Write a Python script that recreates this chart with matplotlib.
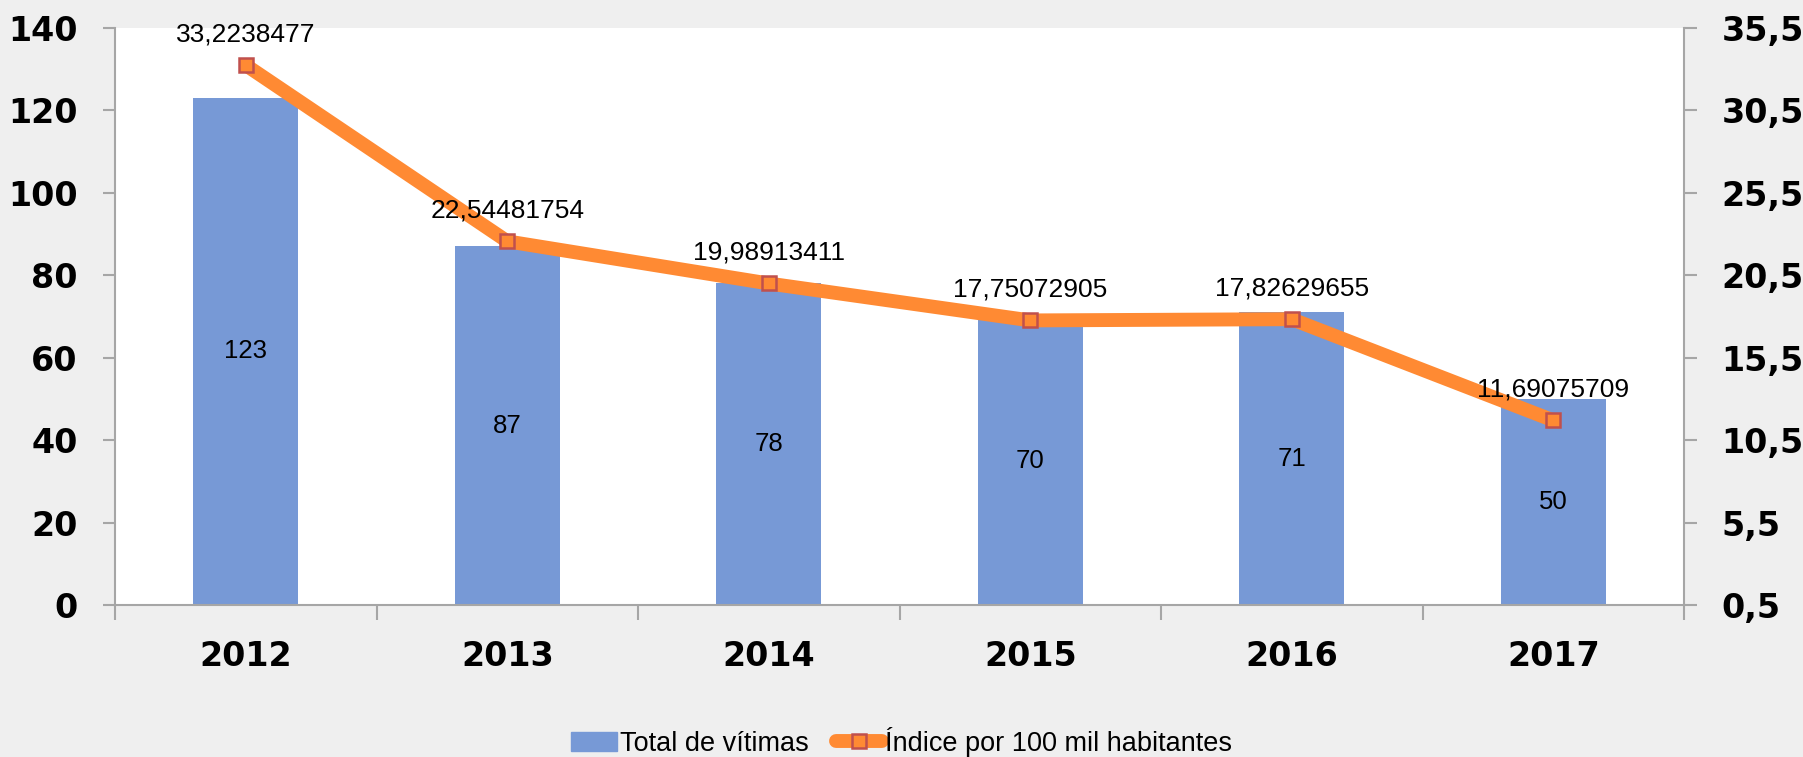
import numpy as np
from matplotlib import pyplot as plt
from matplotlib.lines import Line2D
import matplotlib.patches as mpatches

anos = ['2012', '2013', '2014', '2015', '2016', '2017']
vitimas = [123, 87, 78, 70, 71, 50]
indice = [33.2238477, 22.54481754, 19.98913411, 17.75072905, 17.82629655, 11.69075709]
rotulos_indice = ['33,2238477', '22,54481754', '19,98913411', '17,75072905', '17,82629655', '11,69075709']
ticks_esq = [0, 20, 40, 60, 80, 100, 120, 140]
ticks_dir = [0.5, 5.5, 10.5, 15.5, 20.5, 25.5, 30.5, 35.5]

azul = '#7799D6'
laranja = '#FF8A33'
cinza = '#A6A6A6'

fig = plt.figure(figsize=(18.03, 7.57), dpi=100)
fig.patch.set_facecolor('#EFEFEF')
ax = fig.add_axes([0.0638, 0.2008, 0.8702, 0.7627])
ax.set_facecolor('white')

x = np.arange(len(anos))
barras = ax.bar(x, vitimas, width=0.4, color=azul, zorder=2)
for xi, v in zip(x, vitimas):
    ax.text(xi, v / 2, str(v), ha='center', va='center', fontsize=18.5,
            family='Liberation Sans', zorder=5)

ax.set_xlim(-0.5, 5.5)
ax.set_ylim(0, 140)
ax.set_yticks(ticks_esq)
ax.set_yticklabels([str(t) for t in ticks_esq])
ax.set_xticks(x)
ax.set_xticklabels(anos)
ax.set_xticks(np.arange(-0.5, 6, 1), minor=True)
ax.tick_params(axis='x', which='major', length=0, pad=25)
ax.tick_params(axis='x', which='minor', length=11, width=1.5, color=cinza)
ax.tick_params(axis='y', length=9, width=1.5, color=cinza, pad=18)
for lab in ax.get_xticklabels() + ax.get_yticklabels():
    lab.set_fontsize(24)
    lab.set_fontweight('bold')

for s in ['top', 'right']:
    ax.spines[s].set_visible(False)
for s in ['left', 'bottom']:
    ax.spines[s].set_color(cinza)
    ax.spines[s].set_linewidth(1.5)

ax2 = ax.twinx()
ax2.plot(x, indice, color=laranja, lw=10, solid_capstyle='butt',
         solid_joinstyle='round', zorder=3,
         marker='s', markersize=10, markerfacecolor=laranja,
         markeredgecolor='#C0504D', markeredgewidth=1.8)
for xi, v, r in zip(x, indice, rotulos_indice):
    ax2.annotate(r, (xi, v), xytext=(0, 22), textcoords='offset points',
                 ha='center', va='center', fontsize=19, family='Liberation Sans')
ax2.set_ylim(0.5, 35.5)
ax2.set_yticks(ticks_dir)
ax2.set_yticklabels([str(t).replace('.', ',') for t in ticks_dir])
ax2.tick_params(axis='y', length=9, width=1.5, color=cinza, pad=18)
for lab in ax2.get_yticklabels():
    lab.set_fontsize(24)
    lab.set_fontweight('bold')
for s in ['top', 'left', 'bottom']:
    ax2.spines[s].set_visible(False)
ax2.spines['right'].set_color(cinza)
ax2.spines['right'].set_linewidth(1.5)

# Legenda
id_bar = mpatches.Patch(color=azul, label='Total de vítimas')
id_lin = Line2D([], [], color=laranja, lw=10, solid_capstyle='round',
                marker='s', markersize=10,
                markerfacecolor=laranja, markeredgecolor='#C0504D',
                markeredgewidth=1.8, label='Índice por 100 mil habitantes')
fig.legend(handles=[id_bar, id_lin], loc='center', bbox_to_anchor=(0.5, 0.02),
           ncol=2, frameon=False, handlelength=1.7, handletextpad=0.1,
           columnspacing=1.0, prop={'family': 'Liberation Sans', 'size': 19.5})

fig.savefig('out.png', dpi=100, facecolor=fig.get_facecolor())
